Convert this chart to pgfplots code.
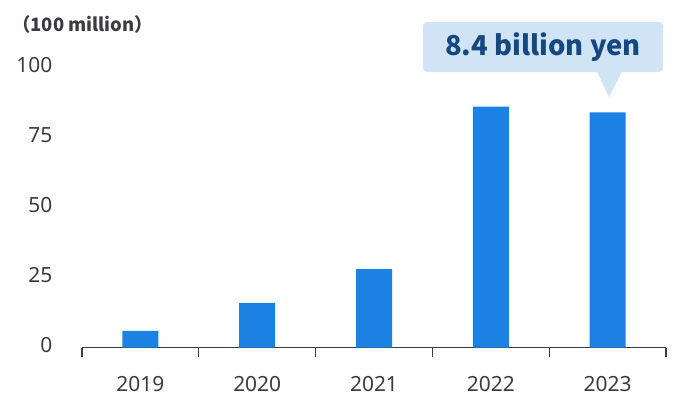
\documentclass[border=0pt]{standalone}
\usepackage{fontspec}
\setmainfont{Noto Sans}
\newfontfamily\cjk{Noto Sans CJK JP}
\usepackage{pgfplots}
\pgfplotsset{compat=1.18}
\definecolor{barblue}{RGB}{27,130,228}
\definecolor{axisgray}{RGB}{60,60,64}
\definecolor{calloutfill}{RGB}{208,228,246}
\definecolor{callouttext}{RGB}{22,72,128}
\begin{document}
\begin{tikzpicture}[x=1bp,y=1bp]
\begin{axis}[
  at={(0,0)}, anchor=south west,
  scale only axis,
  width=584bp, height=280.2bp,
  xmin=-0.5, xmax=4.5,
  ymin=0, ymax=100,
  axis lines*=left,
  y axis line style={draw=none},
  x axis line style={draw=axisgray, line width=1.3pt, -},
  xtick={0,1,2,3,4},
  xticklabels={2019,2020,2021,2022,2023},
  major x tick style={draw=none},
  major y tick style={draw=none},
  minor xtick={-0.5,0.5,1.5,2.5,3.5,4.5},
  minor x tick style={draw=axisgray, line width=1.3pt},
  minor tick length=9bp,
  tick align=outside,
  xticklabel style={font=\fontsize{21}{21}\selectfont, text=axisgray, inner sep=0pt, yshift=-24bp},
  ytick={0,25,50,75,100},
  yticklabel style={font=\fontsize{21}{21}\selectfont, text=axisgray, anchor=east, xshift=-22bp, yshift=2.5bp},
  /pgf/number format/assume math mode=true,
  clip=false,
]
\addplot[ybar, bar width=36bp, fill=barblue, draw=none] coordinates {(0,6) (1,16) (2,28) (3,86) (4,84)};
\end{axis}
\path[use as bounding box] (-82,-46.3) rectangle (594,347.7);
\node[anchor=west, inner sep=0pt, text=axisgray] at (-70,323.7) {\cjk\bfseries\fontsize{18.5}{18.5}\selectfont （100 million）};
\fill[calloutfill, rounded corners=4bp] (341,275.7) rectangle (581,325.7);
\fill[calloutfill] (515,276.2) -- (527,250.7) -- (540,276.2) -- cycle;
\node[text=callouttext, inner sep=0pt] at (461,300.7) {\cjk\bfseries\fontsize{27.5}{27.5}\selectfont 8.4 billion yen};
\end{tikzpicture}
\end{document}
